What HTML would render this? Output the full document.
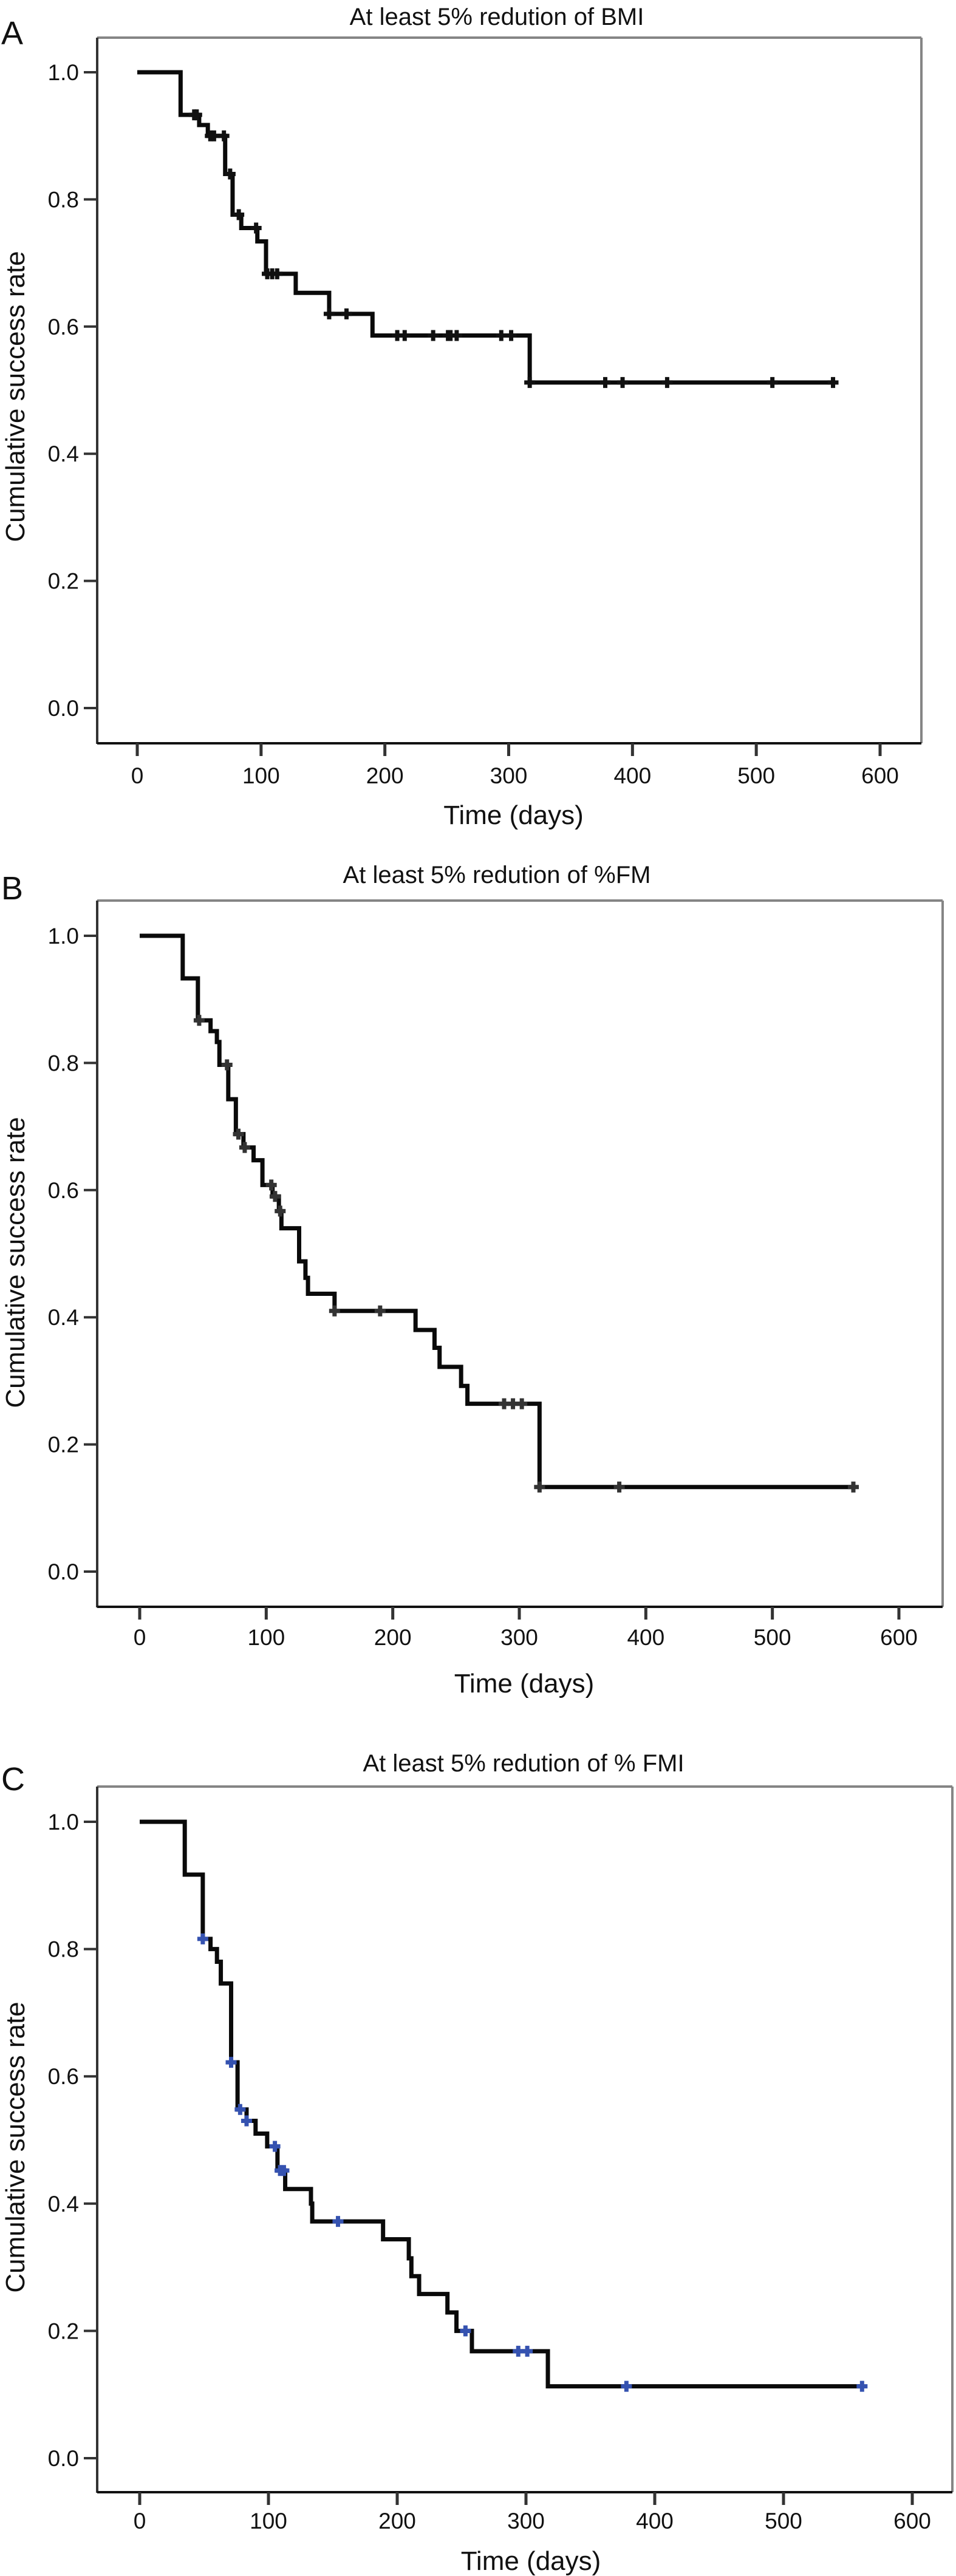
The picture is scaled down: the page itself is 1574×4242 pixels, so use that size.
<!DOCTYPE html>
<html><head><meta charset="utf-8"><style>
html,body{margin:0;padding:0;background:#fff}
svg{display:block}
text{font-family:"Liberation Sans",sans-serif;fill:#111}
</style></head><body>
<svg id="chart" width="1574" height="4242" viewBox="0 0 1574 4242" xmlns="http://www.w3.org/2000/svg"></svg>
<script>
// Panel A data
const aTimes=[35,50,57,71,77,84,97,104,128,155,190,317];
const aSurv=[0.933,0.917,0.900,0.840,0.776,0.755,0.734,0.683,0.653,0.620,0.586,0.512];
const aCens=[46,48,59,62,70,75,82,96,105,109,113,155,169,210,216,239,251,253,258,294,302,317,378,392,428,513,562];
const aEnd=562;
// Panel B data
const bTimes=[34,46,56,61,63,70,76,82,90,97,105,110,112,126,131,133,154,218,233,237,254,259,316];
const bSurv=[0.933,0.867,0.850,0.833,0.797,0.743,0.688,0.667,0.647,0.608,0.590,0.567,0.540,0.488,0.462,0.437,0.410,0.380,0.352,0.322,0.292,0.264,0.133];
const bCens=[47,69,78,83,104,107,111,154,190,288,295,302,316,379,564];
const bEnd=564;
// Panel C data
const cTimes=[35,49,55,60,63,71,76,83,90,99,107,113,133,134,189,209,211,217,239,246,258,317];
const cSurv=[0.917,0.816,0.800,0.780,0.746,0.622,0.548,0.530,0.510,0.490,0.452,0.423,0.400,0.372,0.344,0.314,0.286,0.258,0.229,0.200,0.168,0.113];
const cCens=[49,71,78,83,105,109,112,154,253,294,301,378,561];
const cEnd=561;
const yTicks=["0.0","0.2","0.4","0.6","0.8","1.0"];
const xTicks=["0","100","200","300","400","500","600"];

const NS="http://www.w3.org/2000/svg";
const svg=document.getElementById('chart');
function mk(tag,attrs,parent){const e=document.createElementNS(NS,tag);for(const k in attrs)e.setAttribute(k,attrs[k]);(parent||svg).appendChild(e);return e;}

function panel(cfg,times,surv,cens,end){
  const g=mk('g',{});
  
  
  const X=d=>cfg.x0+(cfg.x600-cfg.x0)*d/600;
  const Y=v=>cfg.y0+(cfg.y1-cfg.y0)*v;
  const top=mk('line',{x1:cfg.L,y1:cfg.T,x2:cfg.R,y2:cfg.T,stroke:'#858585','stroke-width':4},g);
  
  
  const right=mk('line',{x1:cfg.R,y1:cfg.T,x2:cfg.R,y2:cfg.B,stroke:'#858585','stroke-width':4},g);
  
  
  const ya=mk('line',{x1:cfg.L,y1:cfg.T,x2:cfg.L,y2:cfg.B+1,stroke:'#333','stroke-width':4},g);
  
  
  const xa=mk('line',{x1:cfg.L,y1:cfg.B,x2:cfg.R,y2:cfg.B,stroke:'#111','stroke-width':4},g);
  
  
  yTicks.forEach(t=>{
    const y=Y(parseFloat(t));
    const tk=mk('line',{x1:cfg.L-22,y1:y,x2:cfg.L,y2:y,stroke:'#333','stroke-width':4},g);
    
    
    const tl=mk('text',{x:cfg.L-30,y:y+13,'text-anchor':'end','font-size':37},g);
    tl.textContent=t;
    
    
  });
  xTicks.forEach(t=>{
    const x=X(parseFloat(t));
    const tk=mk('line',{x1:x,y1:cfg.B,x2:x,y2:cfg.B+21,stroke:'#333','stroke-width':5},g);
    
    
    const tl=mk('text',{x:x,y:cfg.tickY+14,'text-anchor':'middle','font-size':37},g);
    tl.textContent=t;
    
    
  });
  const ti=mk('text',{x:cfg.titleX,y:cfg.titleY+14,'text-anchor':'middle','font-size':40},g);
  ti.textContent=cfg.title;
  
  
  const lt=mk('text',{x:2,y:cfg.letterY+19,'font-size':54},g);
  lt.textContent=cfg.letter;
  
  
  const xt=mk('text',{x:(cfg.x0+cfg.x600)/2+8,y:cfg.xTitleY+16,'text-anchor':'middle','font-size':44},g);
  xt.textContent='Time (days)';
  
  
  const yt=mk('text',{x:0,y:0,'text-anchor':'middle','font-size':44,transform:`translate(${40},${cfg.yTitleY}) rotate(-90)`},g);
  yt.textContent='Cumulative success rate';
  
  
  let d=`M${X(0)},${Y(1)}`;
  times.forEach((t,i)=>{d+=` H${X(t)} V${Y(surv[i])}`;});
  d+=` H${X(end)}`;
  const p=mk('path',{d:d,fill:'none',stroke:'#0a0a0a','stroke-width':7,'stroke-linejoin':'miter'},g);
  
  
  const sAt=t=>{let v=1;times.forEach((tt,i)=>{if(tt<=t)v=surv[i];});return v;};
  cens.forEach(t=>{
    const cx=X(t),cy=Y(sAt(t));
    const m=mk('path',{d:`M${cx-9},${cy} H${cx+9} M${cx},${cy-9} V${cy+9}`,stroke:cfg.censColor,'stroke-width':7,fill:'none'},g);
    
    
  });
}
panel({letter:'A',title:'At least 5% redution of BMI',L:160,R:1517,T:62,B:1224,x0:226,x600:1449,y0:1166,y1:119,titleX:818,titleY:27,letterY:54,tickY:1276,xTitleY:1341,yTitleY:653,censColor:'#111'},aTimes,aSurv,aCens,aEnd);
panel({letter:'B',title:'At least 5% redution of %FM',L:160,R:1552,T:1483,B:2646,x0:230,x600:1480,y0:2588,y1:1541,titleX:818,titleY:1440,letterY:1462,tickY:2695,xTitleY:2771,yTitleY:2079,censColor:'#333'},bTimes,bSurv,bCens,bEnd);
panel({letter:'C',title:'At least 5% redution of % FMI',L:160,R:1568,T:2942,B:4104,x0:230,x600:1502,y0:4048,y1:3000,titleX:862,titleY:2903,letterY:2929,tickY:4150,xTitleY:4216,yTitleY:3536,censColor:'#3552b0'},cTimes,cSurv,cCens,cEnd);
</script>
</body></html>
